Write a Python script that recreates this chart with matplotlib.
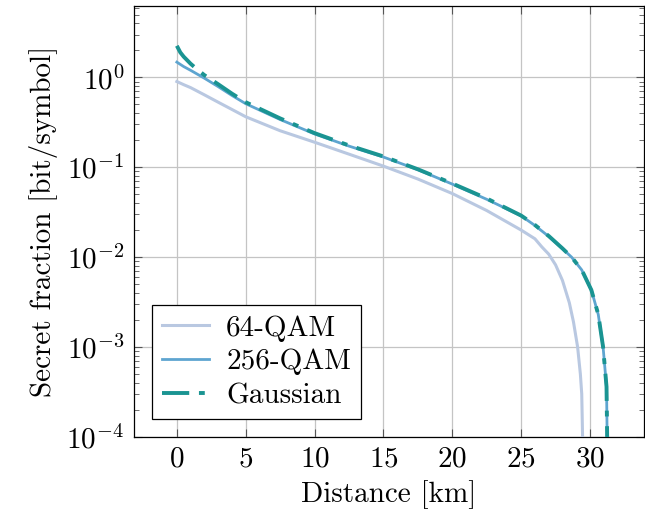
import numpy as np
import matplotlib
matplotlib.use("Agg")
import matplotlib.pyplot as plt
from matplotlib.ticker import LogLocator, NullFormatter

plt.rcParams['font.family'] = ['cmr10', 'DejaVu Serif']
plt.rcParams['mathtext.fontset'] = 'cm'
plt.rcParams['axes.formatter.use_mathtext'] = True

# distances [km] and secret fraction [bit/symbol]
d_64 = [0, 0.5, 1, 2, 3, 4, 5, 7.5, 10, 12.5, 15, 17.5, 20, 22.5, 25, 26, 26.5,
        27, 27.5, 28, 28.5, 28.8, 29.1, 29.3, 29.4, 29.5]
sf_64 = [0.90, 0.83, 0.77, 0.64, 0.53, 0.44, 0.365, 0.255, 0.19, 0.14, 0.103,
         0.074, 0.051, 0.033, 0.020, 0.016, 0.013, 0.0108, 0.0082, 0.0055,
         0.0031, 0.0019, 0.0010, 0.0005, 0.0003, 0.00005]

d_256 = [0, 0.5, 1, 2, 3, 4, 5, 7.5, 10, 12.5, 15, 17.5, 20, 22.5, 25, 26, 27,
         28, 28.66, 29.4, 30.1, 30.6, 30.95, 31.2, 31.27]
sf_256 = [1.48, 1.32, 1.20, 0.98, 0.79, 0.63, 0.51, 0.34, 0.235, 0.172, 0.13,
          0.094, 0.065, 0.044, 0.0288, 0.0225, 0.017, 0.0124, 0.0100, 0.0072,
          0.0043, 0.0023, 0.0010, 0.00036, 0.00005]

d_gauss = [0, 0.25, 0.5, 1, 1.5, 2, 3, 4, 5, 7.5, 10, 12.5, 15, 17.5, 20, 22.5,
           25, 26, 27, 28, 28.66, 29.4, 30.1, 30.6, 30.95, 31.2, 31.27]
sf_gauss = [2.25, 1.90, 1.70, 1.42, 1.22, 1.06, 0.84, 0.66, 0.53, 0.35, 0.24,
            0.175, 0.132, 0.095, 0.066, 0.045, 0.029, 0.0228, 0.0172, 0.0125,
            0.0100, 0.0072, 0.0043, 0.0023, 0.0010, 0.00036, 0.00005]

labels = ['64-QAM', '256-QAM', 'Gaussian']
x_ticks = [0, 5, 10, 15, 20, 25, 30]

fig = plt.figure(figsize=(6.45, 5.2), dpi=100)
ax = fig.add_axes([0.208, 0.160, 0.790, 0.828])

ax.plot(d_64, sf_64, '-', color='#b9c8e1', lw=2.2, label=labels[0], zorder=3)
ax.plot(d_256, sf_256, '-', color='#5ea5d0', lw=2.0, label=labels[1], zorder=4)
ax.plot(d_gauss, sf_gauss, '-.', color='#1a9492', lw=2.8, label=labels[2],
        dashes=(7, 2.5, 1.5, 2.5), zorder=5)

ax.set_yscale('log')
ax.set_xlim(-3.1, 33.9)
ax.set_ylim(1e-4, 6.2)
ax.set_xticks(x_ticks)
ax.yaxis.set_major_locator(LogLocator(base=10, numticks=10))
ax.yaxis.set_minor_locator(LogLocator(base=10, subs=np.arange(2, 10), numticks=20))
ax.yaxis.set_minor_formatter(NullFormatter())

ax.grid(True, which='major', color='#c4c4c4', lw=0.9, zorder=0)
ax.set_axisbelow(True)
ax.tick_params(which='both', direction='in', top=True, right=True,
               labelsize=21, color='#555555')
ax.tick_params(which='major', length=6, width=0.8, pad=7)
ax.tick_params(which='minor', length=3.5, width=0.6)
for s in ax.spines.values():
    s.set_linewidth(0.9)

ax.set_xlabel('Distance [km]', fontsize=21, labelpad=5)
ax.set_ylabel('Secret fraction [bit/symbol]', fontsize=21, labelpad=6)

leg = ax.legend(loc='lower left', fontsize=21, frameon=True, fancybox=False,
                edgecolor='black', framealpha=1, handlelength=1.6,
                borderaxespad=0.6, borderpad=0.35, labelspacing=0.25,
                handletextpad=0.6)
leg.get_frame().set_linewidth(0.9)

fig.savefig('out.png', dpi=100)
